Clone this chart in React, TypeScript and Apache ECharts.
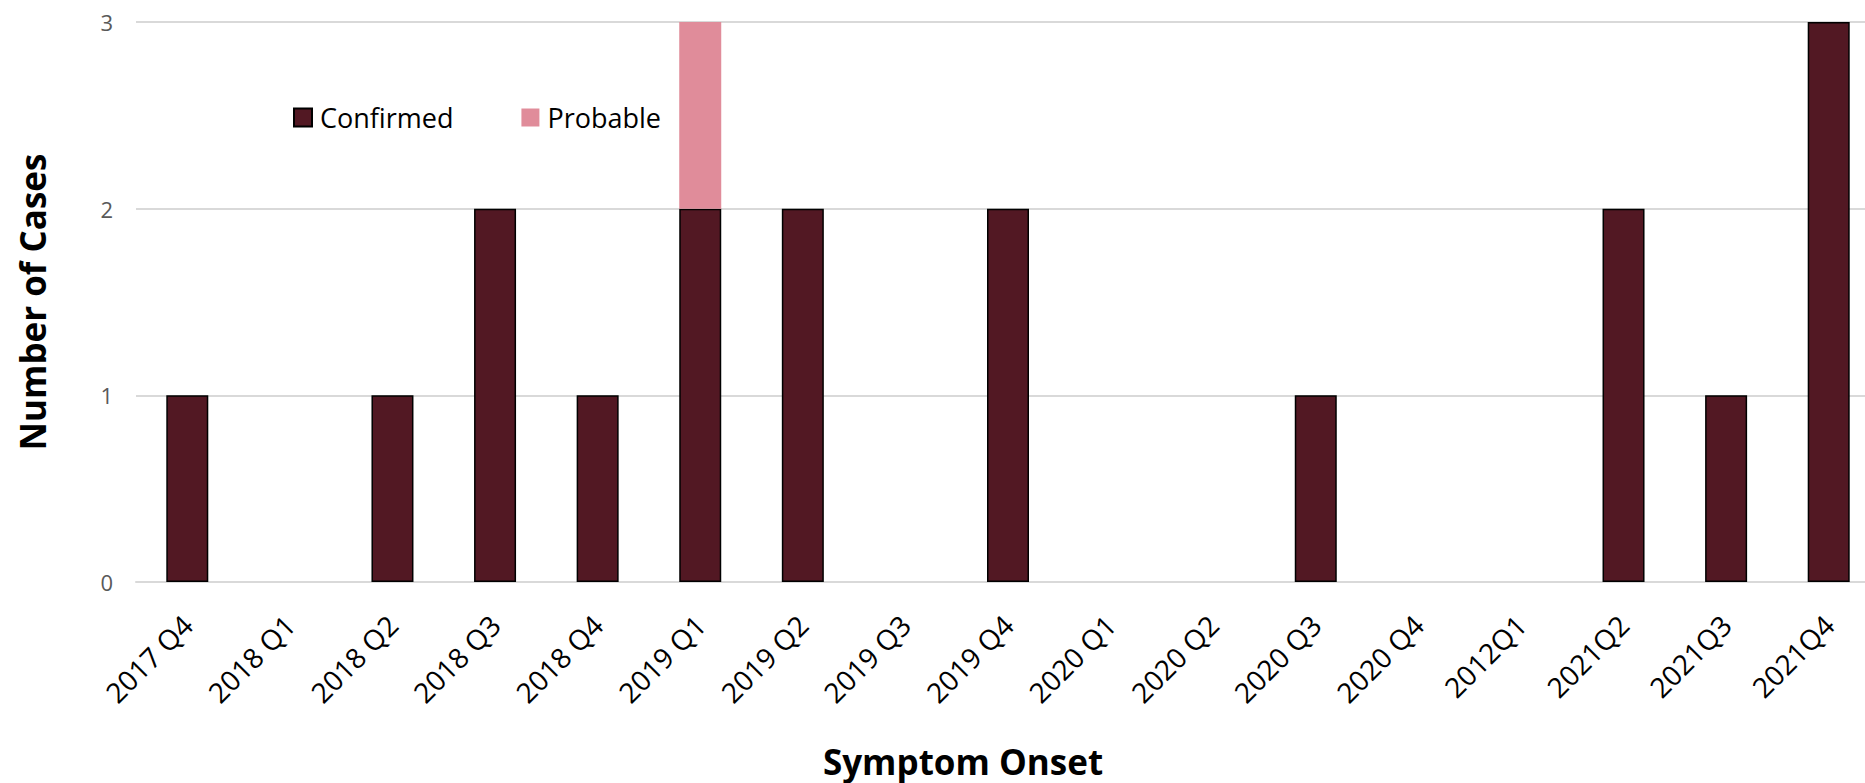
import React, { useEffect, useRef } from "react";
import * as echarts from "echarts";

// Quarter of symptom onset (labels kept as printed on the axis)
const quarters = [
  "2017 Q4", "2018 Q1", "2018 Q2", "2018 Q3", "2018 Q4",
  "2019 Q1", "2019 Q2", "2019 Q3", "2019 Q4",
  "2020 Q1", "2020 Q2", "2020 Q3", "2020 Q4",
  "2012Q1", "2021Q2", "2021Q3", "2021Q4",
];

// Case counts per quarter
const confirmedCases = [1, 0, 1, 2, 1, 2, 2, 0, 2, 0, 0, 1, 0, 0, 2, 1, 3];
const probableCases = [0, 0, 0, 0, 0, 1, 0, 0, 0, 0, 0, 0, 0, 0, 0, 0, 0];

const yTicks = { min: 0, max: 3, interval: 1 };

const FONT = "'Open Sans', 'Noto Sans', sans-serif";

// Empty quarters get no bar at all (avoids a bordered zero-height stub)
const toBars = (values: number[]) => values.map((v) => (v === 0 ? null : v));

export default function App() {
  const ref = useRef<HTMLDivElement>(null);

  useEffect(() => {
    if (!ref.current) return;
    const chart = echarts.init(ref.current, null, { renderer: "svg" });
    chart.setOption({
      animation: false,
      backgroundColor: "#ffffff",
      textStyle: { fontFamily: FONT },
      // plot area runs a little past the right edge of the visible frame
      grid: { left: 136, top: 22, right: 0, bottom: 201, containLabel: false },
      legend: {
        left: 293,
        top: 104,
        padding: 0,
        icon: "rect",
        itemWidth: 18,
        itemHeight: 18,
        itemGap: 68,
        textStyle: {
          fontFamily: FONT,
          fontSize: 27,
          color: "#000000",
          padding: [0, 0, 0, 3],
        },
        data: ["Confirmed", "Probable"],
      },
      graphic: [
        {
          type: "text",
          x: 963,
          y: 761,
          style: {
            text: "Symptom Onset",
            fontFamily: FONT,
            fontSize: 35,
            fontWeight: "bold",
            fill: "#000000",
            textAlign: "center",
            textVerticalAlign: "middle",
          },
        },
      ],
      xAxis: {
        type: "category",
        data: quarters,
        axisLine: { show: true, lineStyle: { color: "#D9D9D9", width: 2 } },
        axisTick: { show: false },
        axisLabel: {
          rotate: 45,
          margin: 38,
          interval: 0,
          fontFamily: FONT,
          fontSize: 28,
          color: "#000000",
        },
      },
      yAxis: {
        type: "value",
        min: yTicks.min,
        max: yTicks.max,
        interval: yTicks.interval,
        name: "Number of Cases",
        nameLocation: "middle",
        nameRotate: 90,
        nameGap: 86,
        nameTextStyle: {
          fontFamily: FONT,
          fontSize: 35,
          fontWeight: "bold",
          color: "#000000",
        },
        axisLine: { show: false },
        axisTick: { show: false },
        axisLabel: {
          margin: 23,
          fontFamily: FONT,
          fontSize: 22,
          color: "#595959",
        },
        splitLine: { lineStyle: { color: "#D9D9D9", width: 2 } },
      },
      series: [
        {
          name: "Confirmed",
          type: "bar",
          stack: "cases",
          barWidth: 42,
          data: toBars(confirmedCases),
          itemStyle: { color: "#521823", borderColor: "#000000", borderWidth: 1.5 },
        },
        {
          name: "Probable",
          type: "bar",
          stack: "cases",
          barWidth: 42,
          data: toBars(probableCases),
          itemStyle: { color: "#E08C9A", borderWidth: 0 },
        },
      ],
    });
    return () => chart.dispose();
  }, []);

  return (
    <div
      style={{
        position: "fixed",
        left: 0,
        top: 0,
        width: 1865,
        height: 783,
        overflow: "hidden",
        background: "#fff",
      }}
    >
      <div ref={ref} style={{ width: 1880, height: 783 }} />
    </div>
  );
}
